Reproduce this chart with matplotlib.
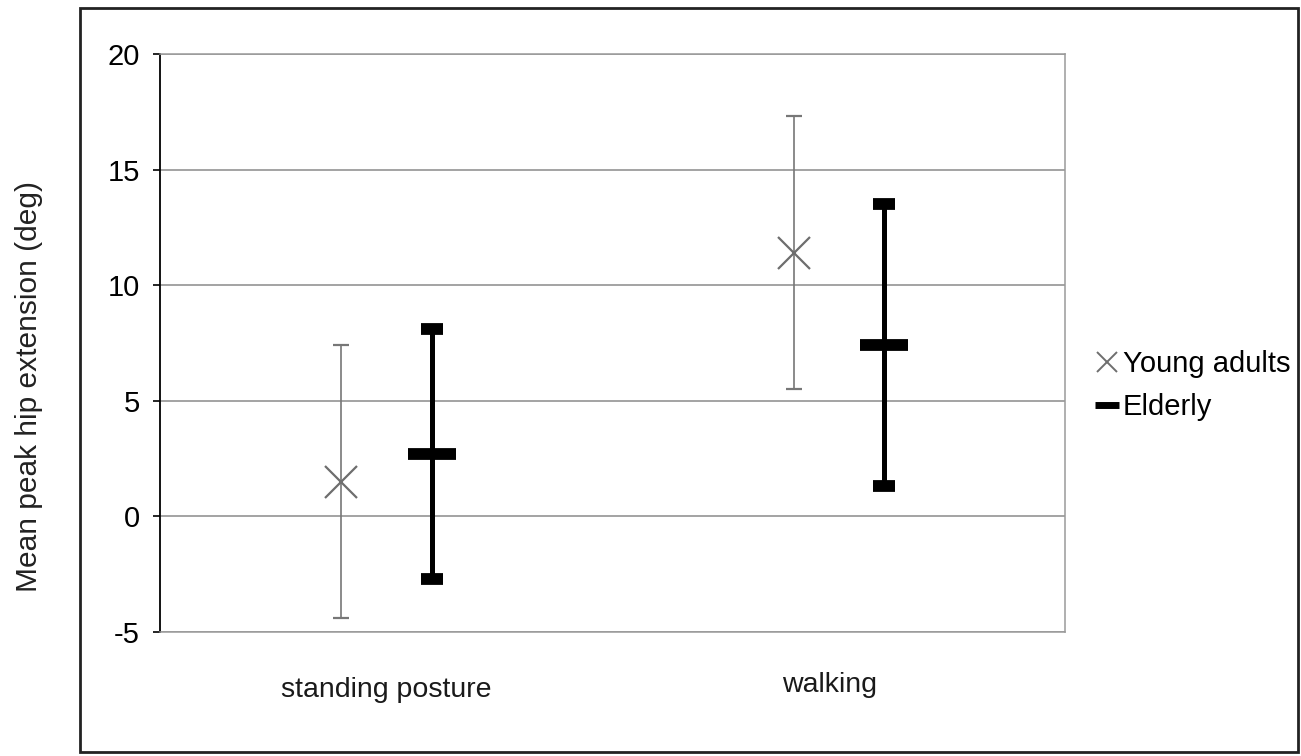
import numpy as np
import matplotlib.pyplot as plt
from matplotlib.lines import Line2D
from matplotlib.patches import Rectangle

plt.rcParams['font.family'] = ['Liberation Sans', 'DejaVu Sans']

# data
categories = ['standing posture', 'walking']
young_mean = [1.5, 11.4]
young_sd = [5.9, 5.9]
elderly_mean = [2.7, 7.4]
elderly_sd = [5.4, 6.1]

fig = plt.figure(figsize=(13.01, 7.56), dpi=100)
ax = fig.add_axes([0.123, 0.164, 0.6956, 0.7646])

x = np.arange(len(categories)) + 0.5
offset = 0.1

# Young adults: thin gray error bars with x marker
ax.errorbar(x - offset, young_mean, yerr=young_sd, fmt='x', color='#6e6e6e',
            ecolor='#777777', elinewidth=1.2, capsize=6, capthick=1.2,
            markersize=23, markeredgewidth=1.6, zorder=3)

# Elderly: thick black bars with dash marker
ax.errorbar(x + offset, elderly_mean, yerr=elderly_sd, fmt='_', color='black',
            ecolor='black', elinewidth=3.6, capsize=8, capthick=3.8,
            markersize=34, markeredgewidth=8.5, zorder=3)

ax.set_xlim(0, 2)
ax.set_ylim(-5, 20)
ax.set_yticks([-5, 0, 5, 10, 15, 20])
ax.set_yticklabels(['-5', '0', '5', '10', '15', '20'])
ax.set_xticks([])
ax.tick_params(axis='y', labelsize=21, length=5, width=1.2, direction='out', pad=9.5)

# category labels (Excel puts them at slightly different heights)
label_dx = [0.0, -0.02]
label_y = [-0.1125, -0.104]
for xi, name, dx, ly in zip(x, categories, label_dx, label_y):
    ax.text(xi + dx, ly, name, transform=ax.get_xaxis_transform(),
            ha='center', va='baseline', fontsize=20.5, color='#1a1a1a')

ax.grid(axis='y', color='#8a8a8a', linewidth=1.1)
ax.set_axisbelow(True)

ax.spines['left'].set_color('black')
ax.spines['left'].set_linewidth(1.3)
for s in ['top', 'right', 'bottom']:
    ax.spines[s].set_color('#9a9a9a')
    ax.spines[s].set_linewidth(1.1)

handles = [
    Line2D([], [], linestyle='none', marker='x', color='#6e6e6e', markersize=14, markeredgewidth=1.4),
    Line2D([], [], linestyle='none', marker='_', color='black', markersize=17, markeredgewidth=5),
]
fig.legend(handles, ['Young adults', 'Elderly'], loc='center left',
           bbox_to_anchor=(0.8305, 0.49), frameon=False, fontsize=21,
           handlelength=0.8, handletextpad=0.15, labelspacing=0.5, borderpad=0)

# outer chart border
fig.patches.append(Rectangle((80 / 1301, 1 - 752 / 756), 1218 / 1301, 744 / 756,
                             transform=fig.transFigure, fill=False,
                             edgecolor='#222222', linewidth=2))

# y label sits outside the border, as in the original
fig.text(29 / 1301, 1 - 387 / 756, 'Mean peak hip extension (deg)', rotation=90,
         fontsize=21.5, ha='center', va='center', color='#222222')

fig.savefig('out.png', dpi=100)
